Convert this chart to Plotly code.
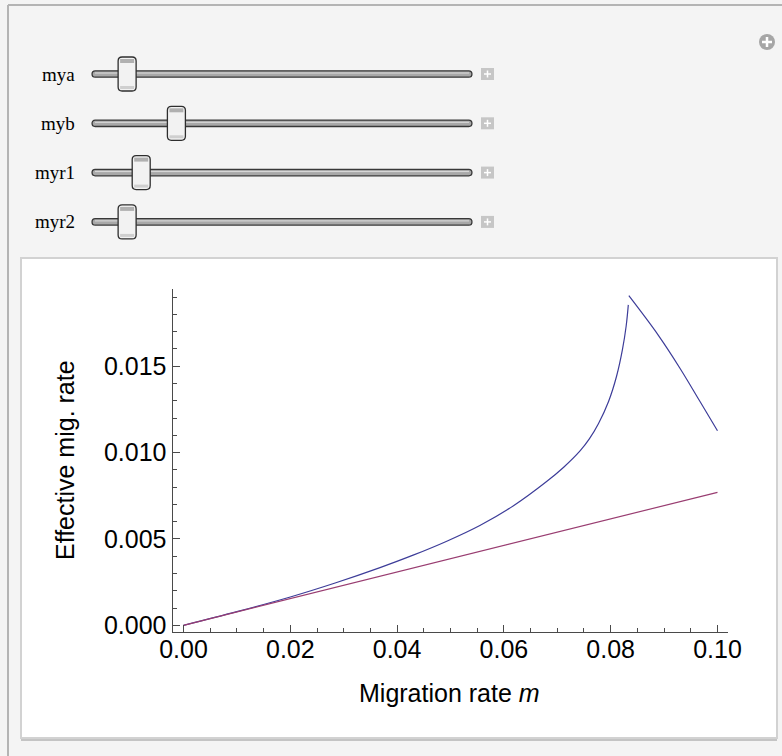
import plotly.graph_objects as go

# ---------------- data ----------------
m_blue_left = [0.0, 0.01, 0.02, 0.0284, 0.0368, 0.043, 0.0493, 0.0555, 0.0618,
               0.068, 0.0712, 0.0743, 0.0760, 0.0777, 0.0796, 0.0811, 0.0822, 0.0829, 0.0833]
v_blue_left = [0.0, 0.00079, 0.00164, 0.00245, 0.00334, 0.00406, 0.00487, 0.00578, 0.00692,
               0.00832, 0.00915, 0.01011, 0.01079, 0.01167, 0.01296, 0.01442, 0.01596, 0.01733, 0.01855]
m_blue_right = [0.0834, 0.0889, 0.0930, 0.0967, 0.1000]
v_blue_right = [0.01908, 0.0168, 0.01487, 0.01297, 0.01126]
m_purple = [0.0, 0.05, 0.1]
v_purple = [0.0, 0.00385, 0.0077]

x_ticks = [0.0, 0.02, 0.04, 0.06, 0.08, 0.10]
y_ticks = [0.0, 0.005, 0.010, 0.015]

slider_names = ["mya", "myb", "myr1", "myr2"]
slider_pos = [0.06, 0.20, 0.10, 0.06]   # relative thumb positions

# ---------------- geometry helpers (pixels -> paper) ----------------
W, H = 782, 756
def px(x):
    return x / W
def py(y):
    return 1 - y / H

BLUE = "#3d3d99"
PURPLE = "#993d71"
AXC = "#4a4a4a"

fig = go.Figure()
fig.add_trace(go.Scatter(x=m_blue_left, y=v_blue_left, mode="lines",
                         line=dict(color=BLUE, width=1.2, shape="spline", smoothing=1.0)))
fig.add_trace(go.Scatter(x=m_blue_right, y=v_blue_right, mode="lines",
                         line=dict(color=BLUE, width=1.2, shape="spline", smoothing=1.0)))
fig.add_trace(go.Scatter(x=m_purple, y=v_purple, mode="lines",
                         line=dict(color=PURPLE, width=1.2)))

shapes = []
# outer panel borders
shapes.append(dict(type="line", xref="paper", yref="paper", x0=px(8), x1=px(782), y0=py(5), y1=py(5),
                   line=dict(color="#b4b4b4", width=2), layer="below"))
shapes.append(dict(type="line", xref="paper", yref="paper", x0=px(8), x1=px(8), y0=py(5), y1=py(756),
                   line=dict(color="#b4b4b4", width=2), layer="below"))
# white plot panel with shadow
shapes.append(dict(type="rect", xref="paper", yref="paper", x0=px(21), x1=px(777), y0=py(741), y1=py(259),
                   fillcolor="#c4c4c4", line=dict(width=0), layer="below"))
shapes.append(dict(type="rect", xref="paper", yref="paper", x0=px(21), x1=px(777), y0=py(738), y1=py(258),
                   fillcolor="white", line=dict(color="#d2d2d2", width=2), layer="below"))

annotations = []
track_x0, track_x1 = 92, 472
thumb_w, thumb_h = 18, 34
for i, (name, pos) in enumerate(zip(slider_names, slider_pos)):
    cy = 74 + i * 49.3
    r = 3.2
    path = (f"M {px(track_x0 + r)},{py(cy - r)} L {px(track_x1 - r)},{py(cy - r)} "
            f"C {px(track_x1 + 1)},{py(cy - r)} {px(track_x1 + 1)},{py(cy + r)} {px(track_x1 - r)},{py(cy + r)} "
            f"L {px(track_x0 + r)},{py(cy + r)} "
            f"C {px(track_x0 - 1)},{py(cy + r)} {px(track_x0 - 1)},{py(cy - r)} {px(track_x0 + r)},{py(cy - r)} Z")
    shapes.append(dict(type="path", xref="paper", yref="paper", path=path,
                       fillcolor="#a8a8a8", line=dict(color="#383838", width=1.3)))
    shapes.append(dict(type="line", xref="paper", yref="paper", x0=px(track_x0 + 3), x1=px(track_x1 - 3),
                       y0=py(cy - 1), y1=py(cy - 1), line=dict(color="#dcdcdc", width=1)))
    tx = track_x0 + 14 + pos * (track_x1 - track_x0 - 28)
    x0, x1 = tx - thumb_w / 2, tx + thumb_w / 2
    y0, y1 = cy - thumb_h / 2, cy + thumb_h / 2
    rr = 4
    tpath = (f"M {px(x0 + rr)},{py(y0)} L {px(x1 - rr)},{py(y0)} Q {px(x1)},{py(y0)} {px(x1)},{py(y0 + rr)} "
             f"L {px(x1)},{py(y1 - rr)} Q {px(x1)},{py(y1)} {px(x1 - rr)},{py(y1)} "
             f"L {px(x0 + rr)},{py(y1)} Q {px(x0)},{py(y1)} {px(x0)},{py(y1 - rr)} "
             f"L {px(x0)},{py(y0 + rr)} Q {px(x0)},{py(y0)} {px(x0 + rr)},{py(y0)} Z")
    shapes.append(dict(type="path", xref="paper", yref="paper", path=tpath,
                       fillcolor="#f2f2f2", line=dict(color="#2e2e2e", width=1.3)))
    shapes.append(dict(type="rect", xref="paper", yref="paper", x0=px(x0 + 2), x1=px(x1 - 2),
                       y0=py(y0 + 2), y1=py(y0 + 6), fillcolor="#b0b0b0", line=dict(width=0)))
    shapes.append(dict(type="rect", xref="paper", yref="paper", x0=px(x0 + 2), x1=px(x1 - 2),
                       y0=py(y1 - 5), y1=py(y1 - 2), fillcolor="#cfcfcf", line=dict(width=0)))
    shapes.append(dict(type="rect", xref="paper", yref="paper", x0=px(481), x1=px(494),
                       y0=py(cy - 6), y1=py(cy + 6), fillcolor="#c6c6c6", line=dict(width=0)))
    shapes.append(dict(type="line", xref="paper", yref="paper", x0=px(484), x1=px(491),
                       y0=py(cy), y1=py(cy), line=dict(color="white", width=1.5)))
    shapes.append(dict(type="line", xref="paper", yref="paper", x0=px(487.5), x1=px(487.5),
                       y0=py(cy - 3.5), y1=py(cy + 3.5), line=dict(color="white", width=1.5)))
    annotations.append(dict(x=px(77), y=py(cy), xref="paper", yref="paper", text=name,
                            showarrow=False, xanchor="right", yanchor="middle",
                            font=dict(family="Liberation Serif", size=19, color="black")))

# top-right circle plus
shapes.append(dict(type="circle", xref="paper", yref="paper", x0=px(759), x1=px(775), y0=py(34), y1=py(50),
                   fillcolor="#a6a6a6", line=dict(width=0)))
shapes.append(dict(type="line", xref="paper", yref="paper", x0=px(762), x1=px(772), y0=py(42), y1=py(42),
                   line=dict(color="white", width=2.5)))
shapes.append(dict(type="line", xref="paper", yref="paper", x0=px(767), x1=px(767), y0=py(37), y1=py(47),
                   line=dict(color="white", width=2.5)))

# axis titles
annotations.append(dict(x=px(449), y=py(693), xref="paper", yref="paper",
                        text="Migration rate <i>m</i>", showarrow=False,
                        xanchor="center", yanchor="middle",
                        font=dict(family="Liberation Sans", size=25, color="black")))
annotations.append(dict(x=px(65), y=py(460), xref="paper", yref="paper",
                        text="Effective mig. rate", showarrow=False, textangle=-90,
                        xanchor="center", yanchor="middle",
                        font=dict(family="Liberation Sans", size=25, color="black")))

tickfont = dict(family="Liberation Sans", size=25, color="black")
fig.update_layout(
    width=W, height=H, margin=dict(l=0, r=0, t=0, b=0, autoexpand=False),
    paper_bgcolor="#f4f4f4", plot_bgcolor="rgba(0,0,0,0)",
    showlegend=False, shapes=shapes, annotations=annotations,
    xaxis=dict(domain=[px(172.5), px(728)], range=[-0.00206, 0.10197], automargin=False,
               tickvals=x_ticks, tickformat=".2f", ticks="inside", ticklen=7, tickcolor=AXC,
               showline=True, linecolor=AXC, linewidth=1, showgrid=False, zeroline=False,
               tickfont=tickfont, ticklabelstandoff=-5,
               minor=dict(dtick=0.005, tick0=0, ticks="inside", ticklen=4, tickcolor=AXC)),
    yaxis=dict(domain=[py(632), py(289)], range=[-0.000388, 0.01947], automargin=False,
               tickvals=y_ticks, tickformat=".3f", ticks="inside", ticklen=7, tickcolor=AXC,
               showline=True, linecolor=AXC, linewidth=1, showgrid=False, zeroline=False,
               tickfont=tickfont,
               minor=dict(dtick=0.001, tick0=0, ticks="inside", ticklen=4, tickcolor=AXC)),
)

fig.write_html("out.html", config={"displayModeBar": False},
               post_script="document.body.style.margin='0';document.body.style.overflow='hidden';"
                           "document.body.style.background='#f4f4f4';")
